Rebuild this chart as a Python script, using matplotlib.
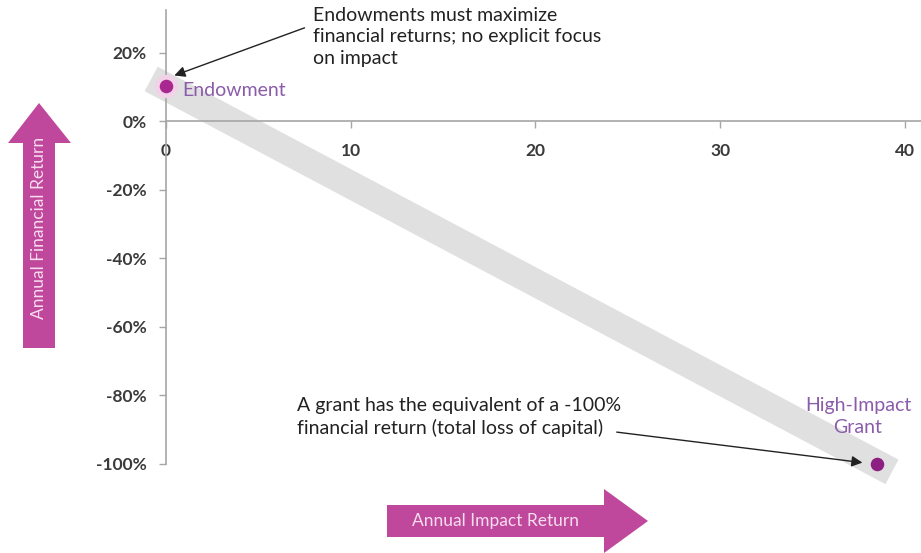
"""Impact vs financial return: endowment vs high-impact grant."""

import matplotlib.pyplot as plt
from matplotlib.patches import Polygon
from matplotlib.ticker import FuncFormatter

plt.rcParams["font.family"] = ["Lato", "DejaVu Sans"]

# Data
names = ["Endowment", "High-Impact\nGrant"]
impact = [0, 38.5]
fin_return = [10.2, -100]
band_x = [-0.8, 39.3]
band_y = [12.3, -102.3]
xticks = [0, 10, 20, 30, 40]
yticks = [20, 0, -20, -40, -60, -80, -100]

magenta = "#C0489C"
label_purple = "#8A5CAA"
axis_grey = "#A6A6A6"

fig = plt.figure(figsize=(9.21, 5.53), dpi=100)
ax = fig.add_axes([166 / 921, 89 / 553, 1 - 166 / 921, 454 / 553])

ax.set_xlim(0, 40.87)
ax.set_ylim(-100, 32.4)

# Grey trend band
ax.plot(band_x, band_y, color="#E0E0E0", lw=20, solid_capstyle="butt",
        clip_on=False, zorder=1)

# Points
ax.scatter(impact[:1], fin_return[:1], s=280, color="#F1D2E8", zorder=3,
           clip_on=False, linewidths=0)
ax.scatter(impact[0], fin_return[0], s=95, color="#A8288F", zorder=4,
           clip_on=False, linewidths=0)
ax.scatter(impact[1], fin_return[1], s=95, color="#8E1F82", zorder=4,
           clip_on=False, linewidths=0)

ax.text(0.87, 8.9, names[0], color=label_purple, fontsize=14,
        va="center", ha="left")
ax.text(37.46, -80.6, names[1], color=label_purple, fontsize=14,
        va="top", ha="center", linespacing=1.3)

# Annotations
ax.text(7.96, 33.4,
        "Endowments must maximize\nfinancial returns; no explicit focus\non impact",
        fontsize=14, color="#222222", va="top", ha="left", linespacing=1.35)
ax.annotate("", xy=(0.45, 13.3), xytext=(7.5, 27.2),
            arrowprops={"arrowstyle": "-|>", "color": "#222222", "lw": 1,
                        "mutation_scale": 16, "shrinkA": 0, "shrinkB": 0})
ax.text(7.09, -80.6,
        "A grant has the equivalent of a -100%\nfinancial return (total loss of capital)",
        fontsize=14, color="#222222", va="top", ha="left", linespacing=1.3)
ax.annotate("", xy=(37.7, -99.6), xytext=(24.4, -90.7),
            arrowprops={"arrowstyle": "-|>", "color": "#222222", "lw": 1,
                        "mutation_scale": 16, "shrinkA": 0, "shrinkB": 0})

# Axes styling
for side in ["top", "right"]:
    ax.spines[side].set_visible(False)
ax.spines["left"].set_position(("data", 0))
ax.spines["bottom"].set_position(("data", 0))
ax.spines["left"].set_color(axis_grey)
ax.spines["bottom"].set_color(axis_grey)
ax.spines["left"].set_linewidth(1.2)
ax.spines["bottom"].set_linewidth(1.2)
ax.spines["left"].set_zorder(2)
ax.spines["bottom"].set_zorder(2)

ax.set_xticks(xticks)
ax.set_yticks(yticks)
ax.yaxis.set_major_formatter(FuncFormatter(lambda v, _: f"{v:.0f}%"))
ax.tick_params(axis="both", colors=axis_grey, labelcolor="#3A3A3A",
               labelsize=12.5, length=5, width=1)
ax.tick_params(axis="y", pad=9)
ax.tick_params(axis="x", pad=11)
for lbl in ax.get_xticklabels() + ax.get_yticklabels():
    lbl.set_fontweight("bold")

# Big magenta arrows in pixel space
over = fig.add_axes([0, 0, 1, 1], zorder=-1)
over.set_xlim(0, 921)
over.set_ylim(553, 0)
over.axis("off")
up_arrow = [(23, 348), (55, 348), (55, 143), (71, 143), (39, 103),
            (8, 143), (23, 143)]
over.add_patch(Polygon(up_arrow, closed=True, color=magenta, lw=0))
over.text(39, 228, "Annual Financial Return", rotation=90, color="#F6DDEE",
          fontsize=12.5, ha="center", va="center")
right_arrow = [(387, 505), (604, 505), (604, 489), (648, 521), (604, 553),
               (604, 537), (387, 537)]
over.add_patch(Polygon(right_arrow, closed=True, color=magenta, lw=0))
over.text(495, 521, "Annual Impact Return", color="#F6DDEE",
          fontsize=12.5, ha="center", va="center")

fig.savefig("out.png", dpi=100)
